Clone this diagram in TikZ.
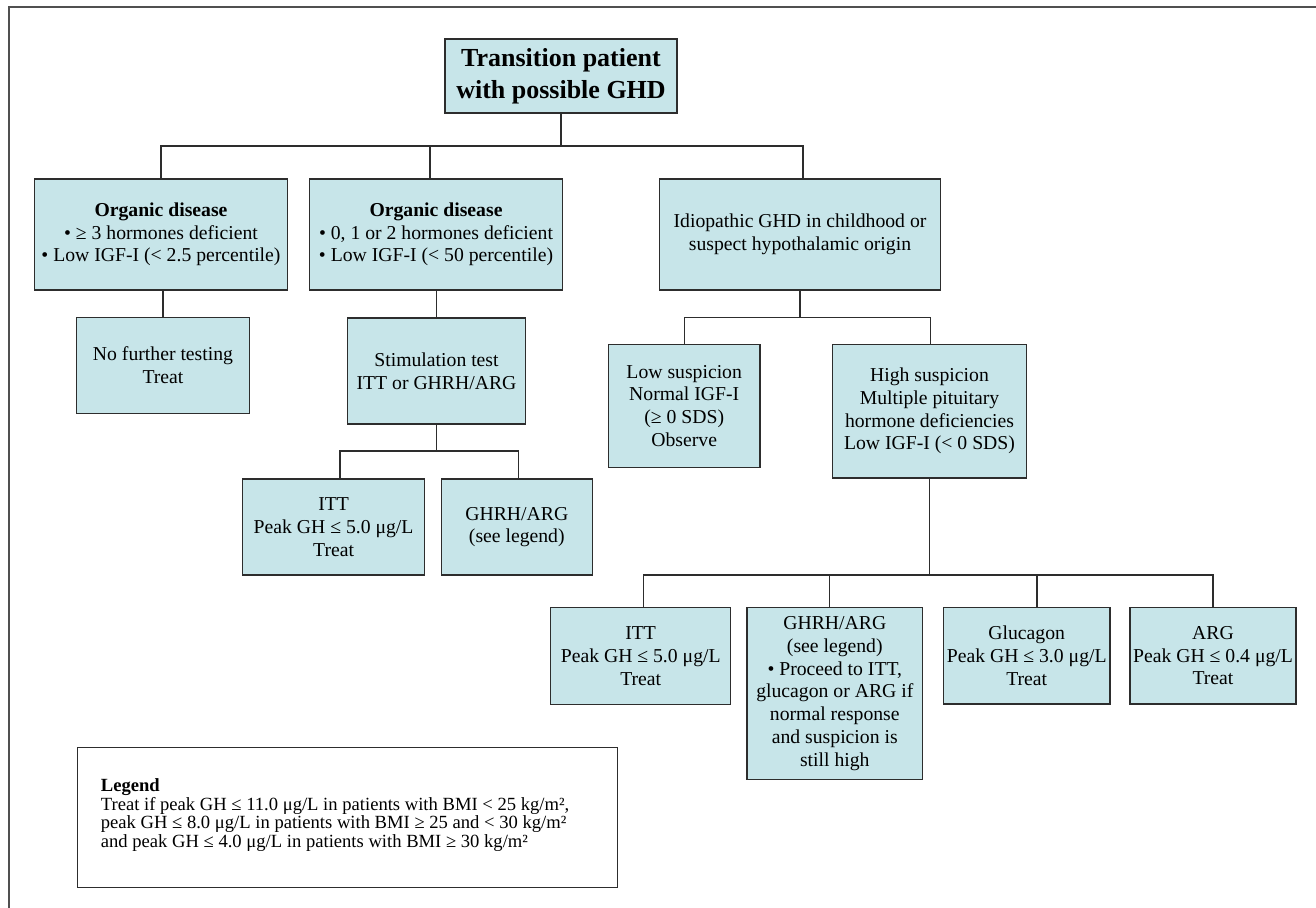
\documentclass[tikz,border=0pt]{standalone}
\usepackage{fontspec}
\setmainfont{Liberation Serif}
\definecolor{boxfill}{RGB}{199,229,233}
\definecolor{edge}{RGB}{45,45,45}
\definecolor{framec}{RGB}{80,80,80}
\begin{document}
\begin{tikzpicture}[x=1pt,y=-1pt,
  box/.style={draw=edge, line width=1.2pt, fill=boxfill, align=center, inner sep=0pt,
              font=\fontsize{19.7}{22.7}\selectfont},
  conn/.style={draw=edge, line width=1.3pt},
  legfont/.style={font=\fontsize{18.6}{18.6}\selectfont}]
\useasboundingbox (0,0) rectangle (1316,907);
\draw[framec, line width=2pt] (8.7,912) -- (8.7,7) -- (1320,7);

% level 0
\node[box, minimum width=232pt, minimum height=74pt, font=\fontsize{26}{32}\selectfont\bfseries] (top) at (561,76) {Transition patient\\with possible GHD};

% level 1
\node[box, minimum width=253pt, minimum height=111pt] (org1) at (161,234.5)
  {\textbf{Organic disease}\\• ≥ 3 hormones deficient\\• Low IGF-I (< 2.5 percentile)};
\node[box, minimum width=253pt, minimum height=111pt] (org2) at (436,234.5)
  {\textbf{Organic disease}\\• 0, 1 or 2 hormones deficient\\• Low IGF-I (< 50 percentile)};
\node[box, minimum width=281pt, minimum height=111pt] (idio) at (800,234.5)
  {Idiopathic GHD in childhood or\\suspect hypothalamic origin};

% level 2
\node[box, minimum width=172.6pt, minimum height=95.6pt] (nofurther) at (163,365.5)
  {No further testing\\Treat};
\node[box, minimum width=178pt, minimum height=106pt] (stim) at (436.5,371)
  {Stimulation test\\ITT or GHRH/ARG};
\node[box, minimum width=151.7pt, minimum height=123pt] (low) at (684.2,405.8)
  {Low suspicion\\Normal IGF-I\\(≥ 0 SDS)\\Observe};
\node[box, minimum width=194.4pt, minimum height=133.5pt] (high) at (929.5,411.2)
  {High suspicion\\Multiple pituitary\\hormone deficiencies\\Low IGF-I (< 0 SDS)};

% level 3 (left)
\node[box, minimum width=182pt, minimum height=96pt] (itt1) at (333.6,527)
  {ITT\\Peak GH ≤ 5.0 μg/L\\Treat};
\node[box, minimum width=151pt, minimum height=96pt] (ghrh1) at (516.8,527)
  {GHRH/ARG\\(see legend)};

% level 3 (right)
\node[box, minimum width=180pt, minimum height=96.5pt] (itt2) at (640.7,656)
  {ITT\\Peak GH ≤ 5.0 μg/L\\Treat};
\node[box, minimum width=175.7pt, minimum height=171.6pt] (ghrh2) at (834.8,693.5)
  {GHRH/ARG\\(see legend)\\• Proceed to ITT,\\glucagon or ARG if\\normal response\\and suspicion is\\still high};
\node[box, minimum width=166.7pt, minimum height=96.3pt] (gluc) at (1026.7,655.8)
  {Glucagon\\Peak GH ≤ 3.0 μg/L\\Treat};
\node[box, minimum width=166pt, minimum height=96.3pt] (arg) at (1213,655.8)
  {ARG\\Peak GH ≤ 0.4 μg/L\\Treat};

% legend
\node[draw=edge, line width=1.2pt, fill=white, minimum width=540pt, minimum height=140pt, inner sep=0pt] (legbox) at (347.7,817.6) {};
\node[legfont, anchor=west, align=left, inner sep=0pt] (legtext) at (100.7,815)
  {\textbf{Legend}\\Treat if peak GH ≤ 11.0 μg/L in patients with BMI < 25 kg/m²,\\peak GH ≤ 8.0 μg/L in patients with BMI ≥ 25 and < 30 kg/m²\\and peak GH ≤ 4.0 μg/L in patients with BMI ≥ 30 kg/m²};

% connectors
\coordinate (b1) at (561,146);
\draw[conn] (top.south) -- (b1);
\draw[conn] (org1.north) |- (b1) -| ([xshift=3pt]idio.north);
\draw[conn] ([xshift=-6pt]org2.north) -- ([xshift=-6pt]org2.north |- b1);

\draw[conn] (nofurther.north) -- (nofurther.north |- org1.south);
\draw[conn] (stim.north) -- (stim.north |- org2.south);

\coordinate (b2) at (436.5,451);
\draw[conn] (stim.south) -- (b2);
\draw[conn] ([xshift=6.4pt]itt1.north) |- (b2) -| ([xshift=2pt]ghrh1.north);

\coordinate (b3) at (800,317.3);
\draw[conn] (idio.south) -- (b3);
\draw[conn] (low.north) |- (b3) -| ([xshift=1.2pt]high.north);

\coordinate (b4) at (929.5,575);
\draw[conn] (high.south) -- (b4);
\draw[conn] ([xshift=2.6pt]itt2.north) |- (b4) -| (arg.north);
\draw[conn] ([xshift=-5.5pt]ghrh2.north) -- ([xshift=-5.5pt]ghrh2.north |- b4);
\draw[conn] ([xshift=10.3pt]gluc.north) -- ([xshift=10.3pt]gluc.north |- b4);
\end{tikzpicture}
\end{document}
